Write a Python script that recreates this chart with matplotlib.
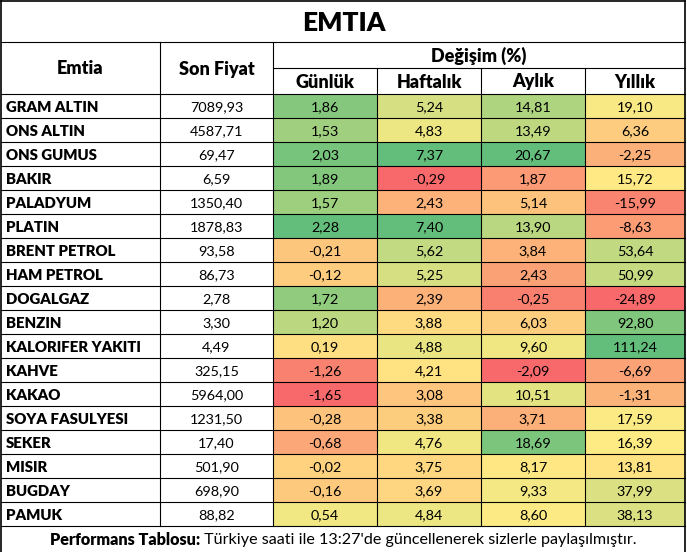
import numpy as np
import matplotlib
matplotlib.use('Agg')
import matplotlib.pyplot as plt
from matplotlib.colors import LinearSegmentedColormap, TwoSlopeNorm
from matplotlib.patches import Rectangle

# table data
names = ['GRAM ALTIN', 'ONS ALTIN', 'ONS GUMUS', 'BAKIR', 'PALADYUM', 'PLATIN',
         'BRENT PETROL', 'HAM PETROL', 'DOGALGAZ', 'BENZIN', 'KALORIFER YAKITI',
         'KAHVE', 'KAKAO', 'SOYA FASULYESI', 'SEKER', 'MISIR', 'BUGDAY', 'PAMUK']
son_fiyat = [7089.93, 4587.71, 69.47, 6.59, 1350.40, 1878.83, 93.58, 86.73, 2.78,
             3.30, 4.49, 325.15, 5964.00, 1231.50, 17.40, 501.90, 698.90, 88.82]
gunluk = [1.86, 1.53, 2.03, 1.89, 1.57, 2.28, -0.21, -0.12, 1.72, 1.20, 0.19,
          -1.26, -1.65, -0.28, -0.68, -0.02, -0.16, 0.54]
haftalik = [5.24, 4.83, 7.37, -0.29, 2.43, 7.40, 5.62, 5.25, 2.39, 3.88, 4.88,
            4.21, 3.08, 3.38, 4.76, 3.75, 3.69, 4.84]
aylik = [14.81, 13.49, 20.67, 1.87, 5.14, 13.90, 3.84, 2.43, -0.25, 6.03, 9.60,
         -2.09, 10.51, 3.71, 18.69, 8.17, 9.33, 8.60]
yillik = [19.10, 6.36, -2.25, 15.72, -15.99, -8.63, 53.64, 50.99, -24.89, 92.80,
          111.24, -6.69, -1.31, 17.59, 16.39, 13.81, 37.99, 38.13]
change_cols = ['Günlük', 'Haftalık', 'Aylık', 'Yıllık']

FONT = 'Lato'
plt.rcParams['font.family'] = [FONT, 'DejaVu Sans']
TXT = '#000000'

W, H = 687, 552
fig = plt.figure(figsize=(W / 100, H / 100), dpi=100)
ax = fig.add_axes([0, 0, 1, 1])
ax.set_xlim(0, W)
ax.set_ylim(H, 0)
ax.axis('off')

# layout in pixels
xs = [1, 160, 273, 377, 481, 585, 685]
y_title, y_sub, y_head = 42, 68, 94
row_h = 24
n = len(names)
y_end = y_head + n * row_h

# excel style 3 colour scale, per column
cmap = LinearSegmentedColormap.from_list('xl', ['#F8696B', '#FFEB84', '#63BE7B'])

def fmt(v):
    return f'{v:.2f}'.replace('.', ',')

for j, vals in enumerate([gunluk, haftalik, aylik, yillik]):
    arr = np.array(vals)
    norm = TwoSlopeNorm(vcenter=np.median(arr), vmin=arr.min(), vmax=arr.max())
    x0, x1 = xs[j + 2], xs[j + 3]
    for i, v in enumerate(arr):
        y0 = y_head + i * row_h
        ax.add_patch(Rectangle((x0, y0), x1 - x0, row_h, facecolor=cmap(norm(v)),
                               edgecolor='none', zorder=1))
        ax.text((x0 + x1) / 2, y0 + row_h / 2 + 1, fmt(v), ha='center', va='center',
                fontsize=10.4, color=TXT, zorder=3)

for i, (nm, p) in enumerate(zip(names, son_fiyat)):
    yc = y_head + i * row_h + row_h / 2 + 1
    ax.text(6, yc, nm, ha='left', va='center', fontsize=10.8, fontweight='heavy',
            color=TXT, zorder=3)
    ax.text((xs[1] + xs[2]) / 2, yc, fmt(p), ha='center', va='center', fontsize=10.4,
            color=TXT, zorder=3)

# headers
ax.text(W / 2, y_title / 2 + 2, 'EMTIA', ha='center', va='center', fontsize=19,
        fontweight='heavy', color=TXT)
hy = (y_title + y_head) / 2 + 1
ax.text((xs[0] + xs[1]) / 2, hy, 'Emtia', ha='center', va='center', fontsize=13,
        fontweight='heavy', color=TXT)
ax.text((xs[1] + xs[2]) / 2, hy, 'Son Fiyat', ha='center', va='center', fontsize=13,
        fontweight='heavy', color=TXT)
ax.text((xs[2] + xs[6]) / 2, (y_title + y_sub) / 2 + 1, 'Değişim (%)', ha='center',
        va='center', fontsize=13, fontweight='heavy', color=TXT)
for j, c in enumerate(change_cols):
    ax.text((xs[j + 2] + xs[j + 3]) / 2, (y_sub + y_head) / 2 + 1, c, ha='center',
            va='center', fontsize=13, fontweight='heavy', color=TXT)

# grid lines
lw = 0.8
lc = '#000000'
ax.plot([xs[0], xs[-1]], [1, 1], color=lc, lw=1.2)
ax.plot([xs[0], xs[-1]], [y_title, y_title], color=lc, lw=lw)
ax.plot([xs[2], xs[-1]], [y_sub, y_sub], color=lc, lw=lw)
for i in range(n + 1):
    y = y_head + i * row_h
    ax.plot([xs[0], xs[-1]], [y, y], color=lc, lw=lw, zorder=2)
ax.plot([xs[0], xs[0]], [1, H], color=lc, lw=1.2)
ax.plot([xs[-1], xs[-1]], [1, H], color=lc, lw=1.2)
for x in xs[1:3]:
    ax.plot([x, x], [y_title, y_end], color=lc, lw=lw, zorder=2)
for x in xs[3:6]:
    ax.plot([x, x], [y_sub, y_end], color=lc, lw=lw, zorder=2)

# footer with bold lead
fig.canvas.draw()
r = fig.canvas.get_renderer()
fy = (y_end + H) / 2 + 1
t1 = ax.text(0, fy, 'Performans Tablosu:', ha='left', va='center', fontsize=11.6,
             fontweight='heavy', color=TXT)
t2 = ax.text(0, fy, ' Türkiye saati ile 13:27\'de güncellenerek sizlerle paylaşılmıştır.',
             ha='left', va='center', fontsize=11.6, color=TXT)
w1 = t1.get_window_extent(r).width
w2 = t2.get_window_extent(r).width
start = W / 2 - (w1 + w2) / 2
t1.set_x(start)
t2.set_x(start + w1)

fig.savefig('out.png', dpi=100, facecolor='white')
